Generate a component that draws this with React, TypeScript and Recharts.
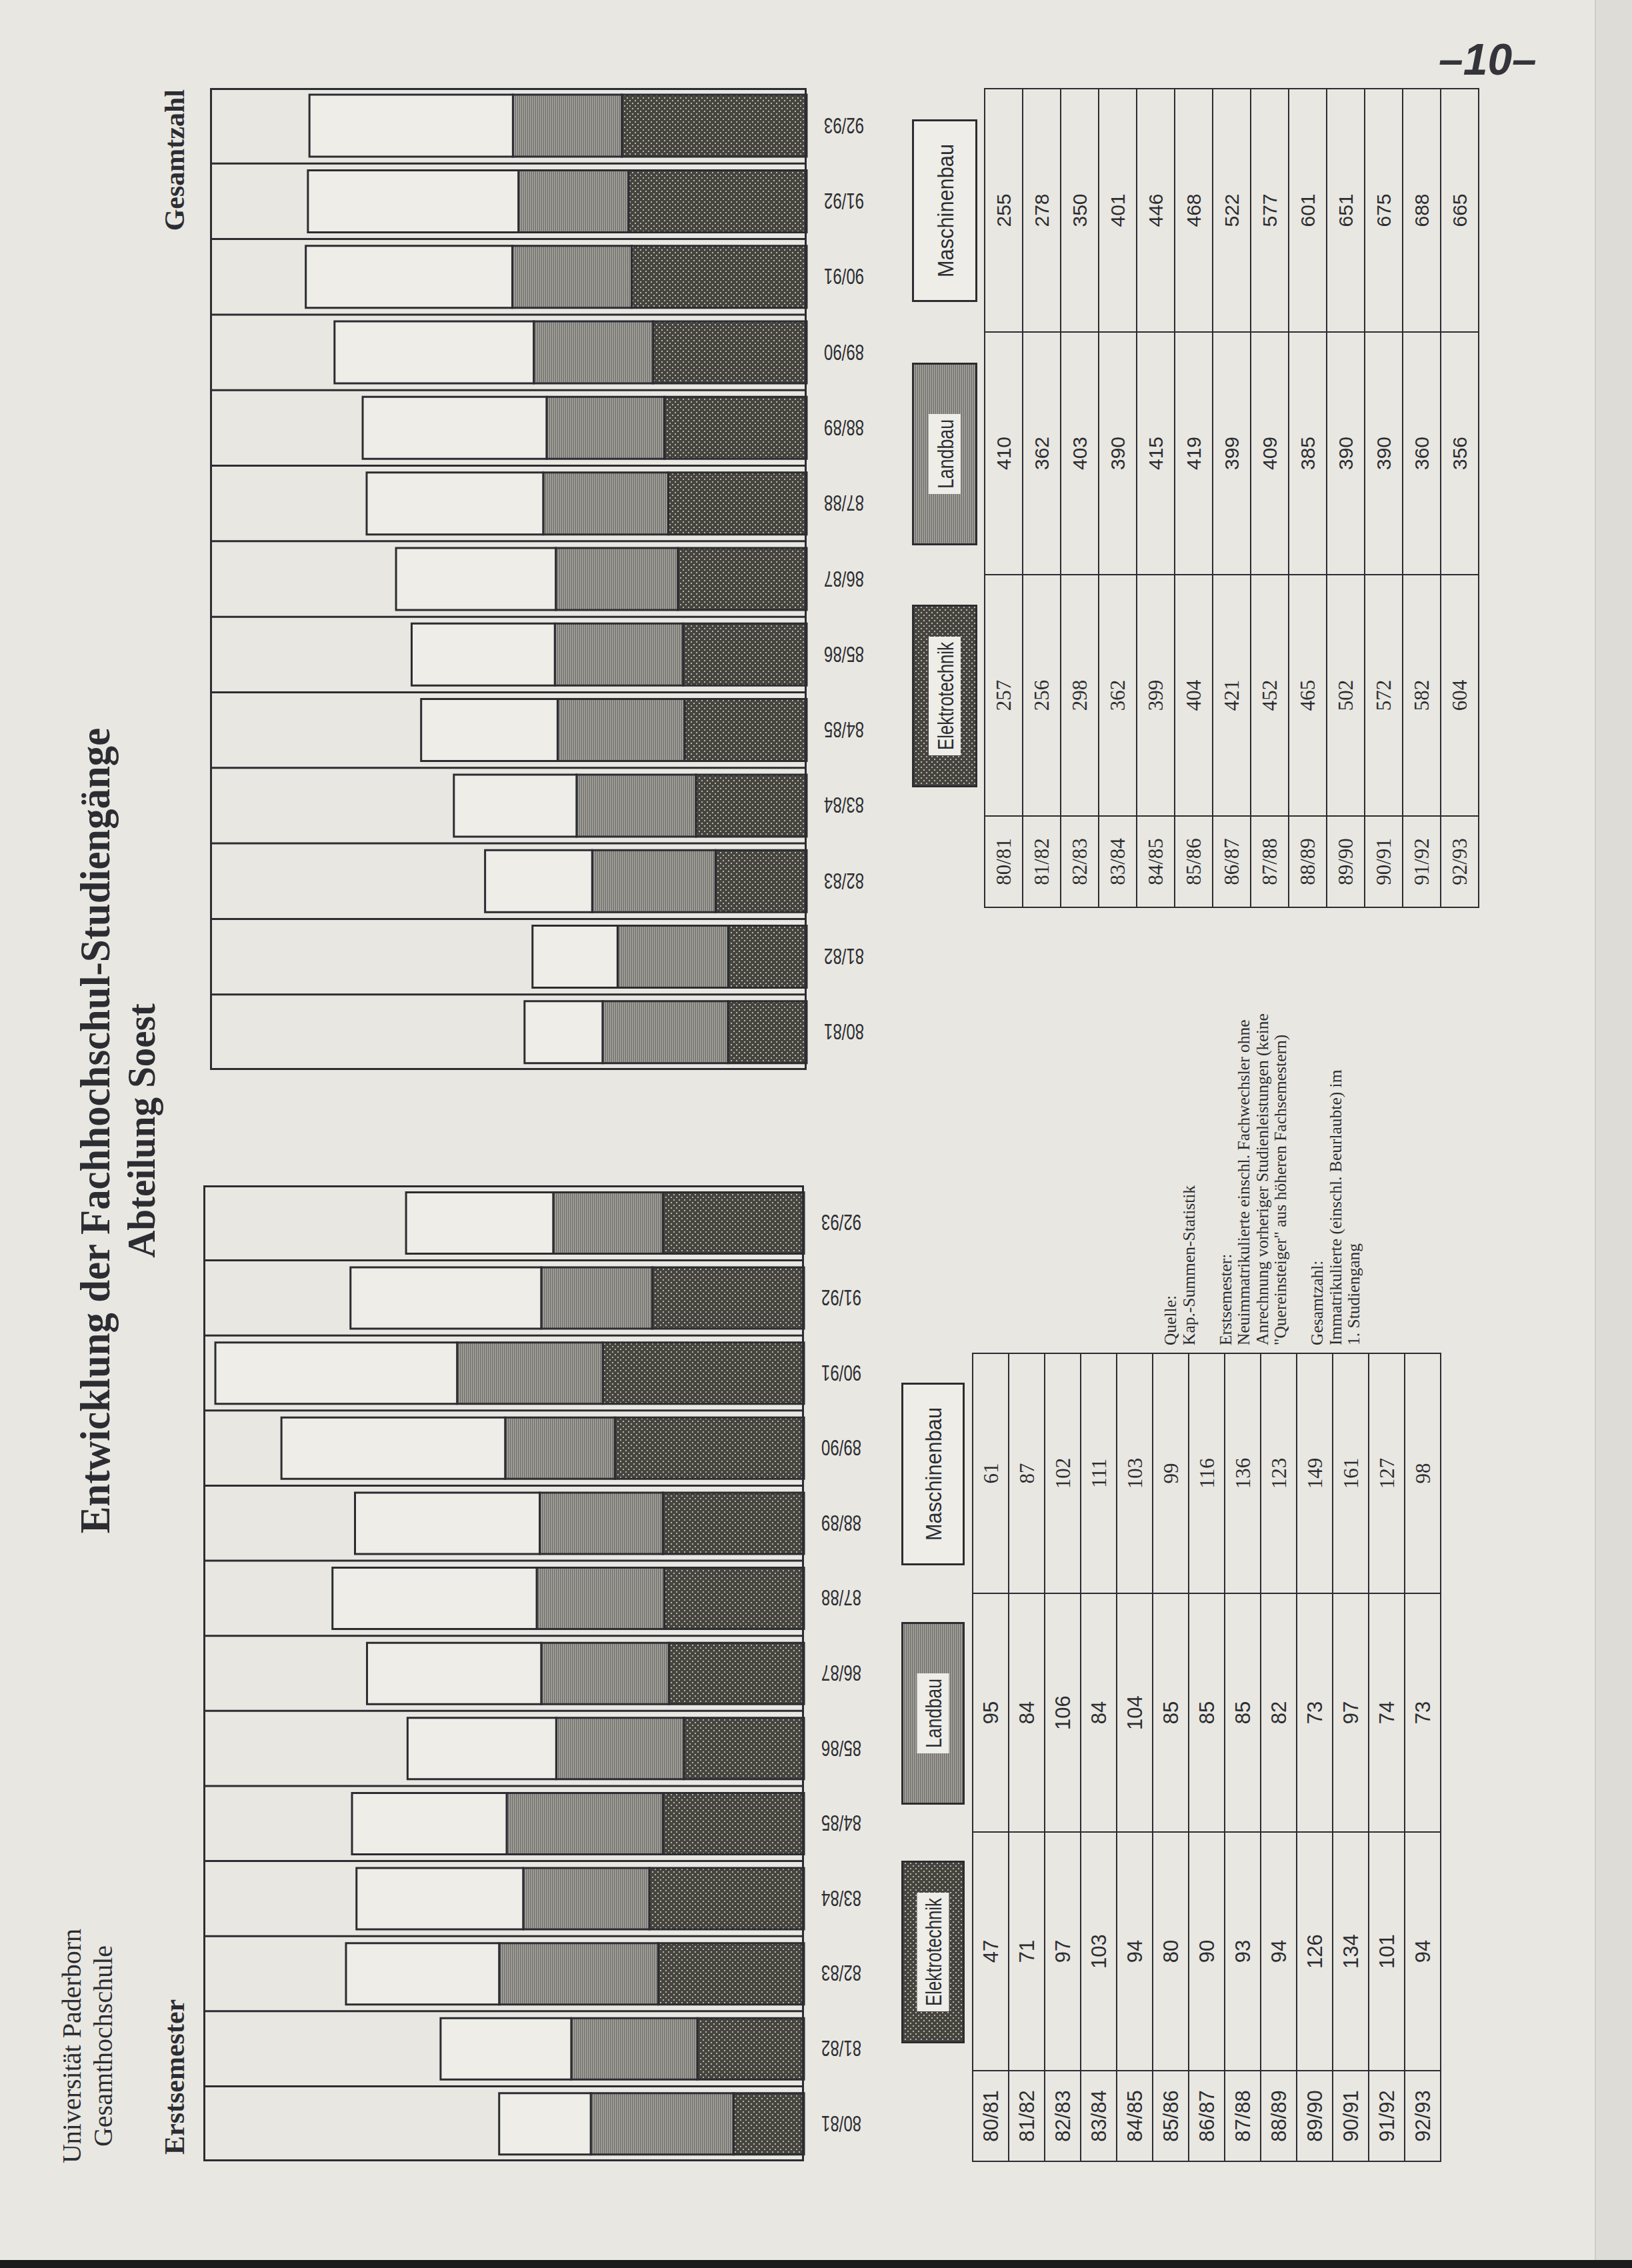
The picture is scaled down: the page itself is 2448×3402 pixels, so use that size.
import React from 'react'
import { BarChart, Bar, XAxis, YAxis, CartesianGrid } from 'recharts'

// Wintersemester, 80/81 .. 92/93
const years = ['80/81', '81/82', '82/83', '83/84', '84/85', '85/86', '86/87', '87/88', '88/89', '89/90', '90/91', '91/92', '92/93']
const programmes = ['Elektrotechnik', 'Landbau', 'Maschinenbau']

// Erstsemester
const erstET = [47, 71, 97, 103, 94, 80, 90, 93, 94, 126, 134, 101, 94]
const erstLB = [95, 84, 106, 84, 104, 85, 85, 85, 82, 73, 97, 74, 73]
const erstMB = [61, 87, 102, 111, 103, 99, 116, 136, 123, 149, 161, 127, 98]

// Gesamtzahl
const gesET = [257, 256, 298, 362, 399, 404, 421, 452, 465, 502, 572, 582, 604]
const gesLB = [410, 362, 403, 390, 415, 419, 399, 409, 385, 390, 390, 360, 356]
const gesMB = [255, 278, 350, 401, 446, 468, 522, 577, 601, 651, 675, 688, 665]

const notes = [
  'Quelle:',
  'Kap.-Summen-Statistik',
  '',
  'Erstsemester:',
  'Neuimmatrikulierte einschl.  Fachwechsler ohne',
  'Anrechnung vorheriger Studienleistungen (keine',
  '"Quereinsteiger" aus höheren Fachsemestern)',
  '',
  'Gesamtzahl:',
  'Immatrikulierte (einschl. Beurlaubte) im',
  '1. Studiengang',
]

const PAPER = '#e9e7e1'
const INK = '#2b2d32'
const LIGHT = '#eeede8'
const SERIF = '"Liberation Serif", "DejaVu Serif", serif'
const NARROW = '"Liberation Sans Narrow", "Liberation Sans", sans-serif'
const SANS = '"Liberation Sans", Arial, sans-serif'

const AXIS_H = 110

const toRows = (a: number[], b: number[], c: number[]) =>
  years.map((year, i) => ({ year, et: a[i], lb: b[i], mb: c[i] }))

function YearTick({ x, y, payload }: any) {
  const ty = y + 18
  return (
    <text
      x={x}
      y={ty}
      transform={`rotate(-90 ${x} ${ty})`}
      textAnchor="end"
      dominantBaseline="central"
      fontFamily={NARROW}
      fontSize={34}
      fill={INK}
      textLength={60}
      lengthAdjust="spacingAndGlyphs"
    >
      {payload.value}
    </text>
  )
}

function StackChart({ left, top, width, plotH, max, rows }: any) {
  const n = rows.length
  return (
    <div style={{ position: 'absolute', left, top, width, height: plotH + AXIS_H }}>
      <BarChart
        width={width}
        height={plotH + AXIS_H}
        data={rows}
        margin={{ top: 0, right: 0, bottom: 0, left: 0 }}
        barCategoryGap="9%"
      >
        <CartesianGrid
          horizontal={false}
          stroke={INK}
          strokeWidth={3}
          verticalCoordinatesGenerator={({ offset }: any) =>
            rows.slice(1).map((_: any, i: number) => offset.left + ((i + 1) * offset.width) / n)
          }
        />
        <XAxis dataKey="year" height={AXIS_H} interval={0} tickLine={false} axisLine={false} tick={<YearTick />} />
        <YAxis hide type="number" domain={[0, max]} />
        <Bar dataKey="et" stackId="s" fill="url(#etDots)" stroke={INK} strokeWidth={3} isAnimationActive={false} />
        <Bar dataKey="lb" stackId="s" fill="url(#lbHatch)" stroke={INK} strokeWidth={3} isAnimationActive={false} />
        <Bar dataKey="mb" stackId="s" fill={LIGHT} stroke={INK} strokeWidth={3} isAnimationActive={false} />
      </BarChart>
      <div
        style={{
          position: 'absolute', left: 0, top: 0, width, height: plotH,
          border: `3px solid ${INK}`, boxSizing: 'border-box', pointerEvents: 'none',
        }}
      />
    </div>
  )
}

const keyText: Record<string, number> = { Elektrotechnik: 162, Landbau: 104, Maschinenbau: 200 }

function KeyBox({ name, x, y, w, h }: any) {
  const fill = name === 'Elektrotechnik' ? 'url(#etDots)' : name === 'Landbau' ? 'url(#lbHatch)' : LIGHT
  const tl = keyText[name]
  return (
    <svg style={{ position: 'absolute', left: x, top: y }} width={w} height={h}>
      <rect x={1.5} y={1.5} width={w - 3} height={h - 3} fill={fill} stroke={INK} strokeWidth={3} />
      {name !== 'Maschinenbau' && (
        <rect x={(w - tl) / 2 - 8} y={h / 2 - 24} width={tl + 16} height={48} fill={LIGHT} />
      )}
      <text
        x={w / 2} y={h / 2 + 1} textAnchor="middle" dominantBaseline="central"
        fontFamily={NARROW} fontSize={33} fill={INK} textLength={tl} lengthAdjust="spacingAndGlyphs"
      >
        {name}
      </text>
    </svg>
  )
}

function YearTable({ x, y, colW, rowH, cols, fonts, keyTop, keyH }: any) {
  const total = colW.reduce((s: number, v: number) => s + v, 0)
  const starts = colW.map((_: number, i: number) => colW.slice(0, i).reduce((s: number, v: number) => s + v, 0))
  const cell = (f: any) => ({
    border: `2.5px solid ${INK}`, padding: 0, textAlign: 'center' as const,
    fontFamily: f.family, fontSize: f.size, color: INK, lineHeight: 1, height: rowH,
  })
  return (
    <>
      {programmes.map((p, j) => (
        <KeyBox key={p} name={p} x={x + starts[j + 1] + colW[j + 1] / 2 - 137} y={keyTop} w={274} h={keyH} />
      ))}
      <table style={{ position: 'absolute', left: x, top: y, width: total, borderCollapse: 'collapse', tableLayout: 'fixed' }}>
        <colgroup>
          {colW.map((w: number, i: number) => <col key={i} style={{ width: w }} />)}
        </colgroup>
        <tbody>
          {years.map((yr, i) => (
            <tr key={yr} style={{ height: rowH }}>
              <td style={cell(fonts[0])}>{yr}</td>
              {cols.map((c: number[], j: number) => (
                <td key={j} style={cell(fonts[j + 1])}>{c[i]}</td>
              ))}
            </tr>
          ))}
        </tbody>
      </table>
    </>
  )
}

const text = (s: any) => ({ position: 'absolute' as const, color: INK, whiteSpace: 'nowrap' as const, ...s })

export default function App() {
  const erstRows = toRows(erstET, erstLB, erstMB)
  const gesRows = toRows(gesET, gesLB, gesMB)
  const narrow = { family: NARROW, size: 31 }
  const serif = { family: SERIF, size: 31 }
  const sans = { family: SANS, size: 30 }
  return (
    <div style={{ position: 'absolute', left: 0, top: 0, width: 2448, height: 3402, overflow: 'hidden', background: PAPER }}>
      <svg width={0} height={0} style={{ position: 'absolute' }}>
        <defs>
          <pattern id="etDots" width={8} height={8} patternUnits="userSpaceOnUse">
            <rect width={8} height={8} fill="#46443f" />
            <circle cx={2} cy={2} r={1.1} fill="#d8d4c8" />
            <circle cx={6} cy={6} r={1.1} fill="#d8d4c8" />
          </pattern>
          <pattern id="lbHatch" width={3} height={3} patternUnits="userSpaceOnUse">
            <rect width={3} height={3} fill="#7b7a76" />
            <rect width={3} height={1} fill="#b0aea8" />
          </pattern>
        </defs>
      </svg>

      {/* the page is printed in landscape and scanned turned by a quarter */}
      <div
        style={{
          position: 'absolute', left: 0, top: 0, width: 3402, height: 2448,
          transformOrigin: '0 0', transform: 'translate(0px, 3402px) rotate(-90deg)',
        }}
      >
        <div style={text({ left: 133, width: 400, top: 84, textAlign: 'center', fontFamily: SERIF, fontSize: 40, lineHeight: '47px' })}>
          Universität Paderborn<br />Gesamthochschule
        </div>
        <div style={text({ left: 170, top: 238, fontFamily: SERIF, fontWeight: 700, fontSize: 42, lineHeight: '48px' })}>
          Erstsemester
        </div>
        <div style={text({ right: 3402 - 3268, top: 238, fontFamily: SERIF, fontWeight: 700, fontSize: 42, lineHeight: '48px' })}>
          Gesamtzahl
        </div>
        <div style={text({ left: 906, width: 1600, top: 108, textAlign: 'center', fontFamily: SERIF, fontWeight: 700 })}>
          <div style={{ fontSize: 64, lineHeight: '70px', transform: 'scaleX(0.95)' }}>Entwicklung der Fachhochschul-Studiengänge</div>
          <div style={{ fontSize: 60, lineHeight: '68px', transform: 'scaleX(0.95)' }}>Abteilung Soest</div>
        </div>

        <StackChart left={160} top={305} width={1464} plotH={901} max={400} rows={erstRows} />
        <StackChart left={1797} top={315} width={1473} plotH={895} max={1950} rows={gesRows} />

        <YearTable
          x={159} y={1458} colW={[136, 358, 358, 360]} rowH={52}
          cols={[erstET, erstLB, erstMB]} fonts={[narrow, narrow, narrow, serif]}
          keyTop={1352} keyH={95}
        />
        <YearTable
          x={2040} y={1476} colW={[137, 362, 364, 365]} rowH={55}
          cols={[gesET, gesLB, gesMB]} fonts={[serif, serif, sans, sans]}
          keyTop={1368} keyH={98}
        />

        <div style={text({ left: 1384, top: 1742, fontFamily: SERIF, fontSize: 25.5, lineHeight: '27.5px' })}>
          {notes.map((l, i) => <div key={i} style={{ height: 27.5 }}>{l}</div>)}
        </div>
      </div>

      <div style={text({ left: 2158, top: 56, fontFamily: SANS, fontWeight: 700, fontStyle: 'italic', fontSize: 66, lineHeight: '66px', color: '#34353b' })}>
        –10–
      </div>
      <div style={{ position: 'absolute', left: 2392, top: 0, width: 56, height: 3402, background: '#dedcd6', borderLeft: '2px solid #cfcdc7' }} />
      <div style={{ position: 'absolute', left: 0, top: 3390, width: 2448, height: 12, background: '#1b1b1b' }} />
    </div>
  )
}
